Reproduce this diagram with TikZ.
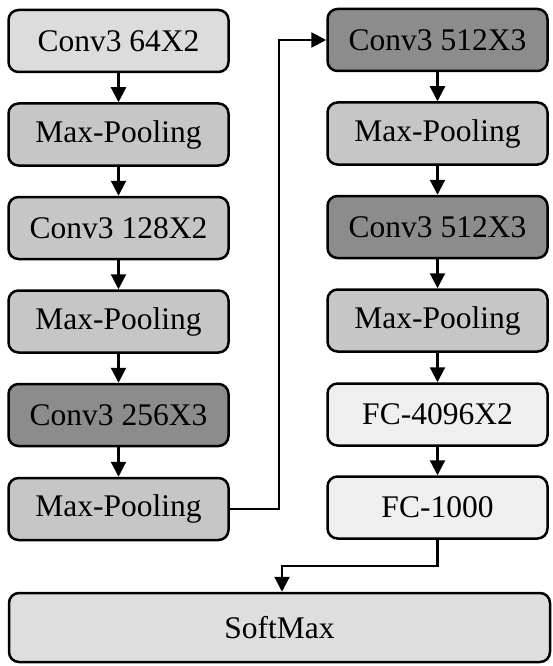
\documentclass[tikz,border=0pt]{standalone}
\usepackage{fontspec}
\setmainfont{Liberation Serif}
\usetikzlibrary{arrows.meta}
\definecolor{cLight}{HTML}{DCDCDC}
\definecolor{cMid}{HTML}{C6C6C6}
\definecolor{cDark}{HTML}{8C8C8C}
\definecolor{cPale}{HTML}{EFEFEF}
\definecolor{cSoft}{HTML}{DEDEDE}
\begin{document}
\begin{tikzpicture}[x=1pt,y=-1pt,
  blk/.style={draw=black, line width=2.5pt, rounded corners=10pt, minimum width=220pt, minimum height=62pt, inner sep=0pt, font=\fontsize{31.5}{34}\selectfont},
  conn/.style={line width=2.2pt, -{Triangle[length=15pt,width=15pt]}}]
\useasboundingbox (0,0) rectangle (552,666);
\node[blk, fill=cLight] (a1) at (118.5,41) {Conv3 64X2};
\node[blk, fill=cMid] (a2) at (118.5,134.5) {Max-Pooling};
\node[blk, fill=cMid] (a3) at (118.5,228) {Conv3 128X2};
\node[blk, fill=cMid] (a4) at (118.5,321.5) {Max-Pooling};
\node[blk, fill=cDark] (a5) at (118.5,415) {Conv3 256X3};
\node[blk, fill=cMid] (a6) at (118.5,509) {Max-Pooling};
\node[blk, fill=cDark] (b1) at (437.5,40) {Conv3 512X3};
\node[blk, fill=cMid] (b2) at (437.5,133.5) {Max-Pooling};
\node[blk, fill=cDark] (b3) at (437.5,227) {Conv3 512X3};
\node[blk, fill=cMid] (b4) at (437.5,320.5) {Max-Pooling};
\node[blk, fill=cPale] (b5) at (437.5,414.5) {FC-4096X2};
\node[blk, fill=cPale] (b6) at (437.5,507.5) {FC-1000};
\node[blk, fill=cSoft, minimum width=541pt, minimum height=69pt] (s) at (279.5,627.5) {SoftMax};
\coordinate (k1) at (279,509);
\coordinate (k2) at (279,40);
\coordinate (m1) at (437.5,566);
\coordinate (m2) at (282,566);
\draw[conn] (a1) -- (a2);
\draw[conn] (a2) -- (a3);
\draw[conn] (a3) -- (a4);
\draw[conn] (a4) -- (a5);
\draw[conn] (a5) -- (a6);
\draw[conn] (b1) -- (b2);
\draw[conn] (b2) -- (b3);
\draw[conn] (b3) -- (b4);
\draw[conn] (b4) -- (b5);
\draw[conn] (b5) -- (b6);
\draw[conn] (a6.east) -- (k1) -- (k2) -- (b1.west);
\draw[conn] (b6.south) -- (m1) -- (m2) -- (m2 |- s.north);
\end{tikzpicture}
\end{document}
